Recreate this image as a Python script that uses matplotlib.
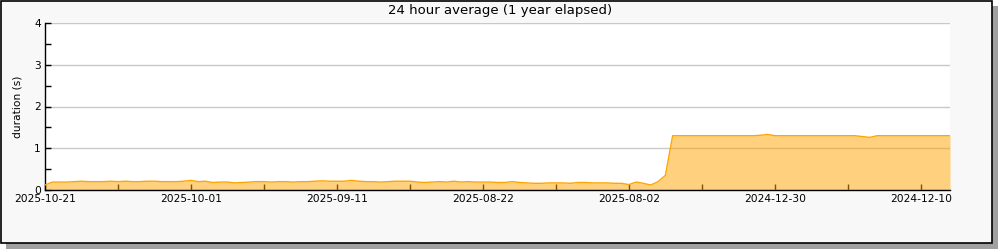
import matplotlib
matplotlib.use("Agg")
import matplotlib.pyplot as plt
from matplotlib.patches import Rectangle
from matplotlib.ticker import MultipleLocator
import numpy as np

# daily 24h average duration (s), newest on the left
durations = [
    0.12, 0.19, 0.19, 0.19, 0.20, 0.21, 0.20, 0.20, 0.20, 0.21,
    0.20, 0.21, 0.20, 0.20, 0.21, 0.21, 0.20, 0.20, 0.20, 0.21,
    0.23, 0.20, 0.21, 0.18, 0.19, 0.19, 0.17, 0.18, 0.19, 0.20,
    0.20, 0.19, 0.20, 0.20, 0.19, 0.20, 0.20, 0.21, 0.22, 0.21,
    0.21, 0.21, 0.23, 0.21, 0.20, 0.20, 0.19, 0.20, 0.21, 0.21,
    0.21, 0.19, 0.18, 0.19, 0.20, 0.19, 0.21, 0.19, 0.20, 0.19,
    0.19, 0.19, 0.18, 0.18, 0.20, 0.18, 0.17, 0.16, 0.16, 0.17,
    0.17, 0.17, 0.16, 0.18, 0.18, 0.17, 0.17, 0.17, 0.16, 0.16,
    0.13, 0.19, 0.16, 0.12, 0.20, 0.35, 1.30, 1.30, 1.30, 1.30,
    1.30, 1.30, 1.30, 1.30, 1.30, 1.30, 1.30, 1.30, 1.31, 1.33,
    1.30, 1.30, 1.30, 1.30, 1.30, 1.30, 1.30, 1.30, 1.30, 1.30,
    1.30, 1.30, 1.28, 1.26, 1.30, 1.30, 1.30, 1.30, 1.30, 1.30,
    1.30, 1.30, 1.30, 1.30, 1.30,
]
tick_labels = ['2025-10-21', '2025-10-01', '2025-09-11', '2025-08-22',
               '2025-08-02', '2024-12-30', '2024-12-10']

days = np.arange(len(durations))

fig = plt.figure(figsize=(10, 2.5), dpi=100, facecolor='white')

# shadow + framed panel
fig.patches.append(Rectangle((0.006, 0.004), 0.992, 0.972, transform=fig.transFigure,
                             facecolor='#a0a0a0', edgecolor='none', zorder=-3))
fig.patches.append(Rectangle((0.001, 0.028), 0.991, 0.970, transform=fig.transFigure,
                             facecolor='#f8f8f8', edgecolor='black', linewidth=1.2, zorder=-2))

ax = fig.add_axes([0.045, 0.24, 0.905, 0.668])
ax.set_facecolor('white')

ax.fill_between(days, durations, 0, color='#ffa500', alpha=0.5, linewidth=0, zorder=2)
ax.plot(days, durations, color='#ffa500', linewidth=1, zorder=3)

ax.set_xlim(0, len(durations) - 1)
ax.set_ylim(0, 4)
ax.set_xticks(np.arange(0, 121, 20))
ax.set_xticklabels(tick_labels)
ax.xaxis.set_minor_locator(MultipleLocator(10))
ax.set_yticks([0, 1, 2, 3, 4])
ax.yaxis.set_minor_locator(MultipleLocator(0.5))

ax.tick_params(which='both', direction='in', length=4, width=1, labelsize=7.7,
               colors='black', pad=3)
ax.yaxis.grid(True, which='major', color='#c8c8c8', linewidth=1, zorder=1)
ax.set_axisbelow(True)

for s in ['top', 'right']:
    ax.spines[s].set_visible(False)
for s in ['left', 'bottom']:
    ax.spines[s].set_linewidth(1)

ax.set_ylabel('duration (s)', fontsize=7.7, labelpad=8)
fig.text(0.5, 0.958, '24 hour average (1 year elapsed)', ha='center', va='center', fontsize=9.5)

fig.savefig('out.png', dpi=100)
